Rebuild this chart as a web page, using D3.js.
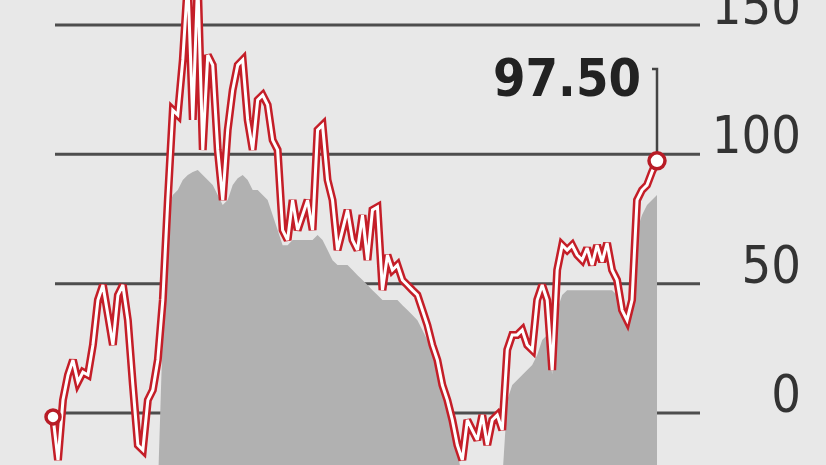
<!DOCTYPE html>
<html>
<head>
<meta charset="utf-8">
<script src="https://cdn.jsdelivr.net/npm/d3@7"></script>
<style>
  html, body { margin: 0; padding: 0; background: #e8e8e8; }
  svg { display: block; }
  .lbl { font-family: 'DejaVu Sans Condensed', 'DejaVu Sans', sans-serif; font-stretch: condensed; }
</style>
</head>
<body>
<svg id="chart" width="826" height="465"></svg>
<script>
// ---- data ----
const priceValues = [
  -1.5, -18.2, 5.0, 14.7, 20.5, 12.0, 15.8, 14.7, 26.3, 43.7,
  49.5, 37.9, 26.3, 45.6, 49.5, 35.9, 10.8, -12.4, -14.3, 5.0,
  8.9, 20.5, 43.7, 82.3, 117.1, 115.2, 136.5, 167.4, 113.3, 167.4,
  101.7, 138.4, 134.5, 101.7, 82.3, 109.4, 124.9, 134.5, 136.5, 113.3,
  101.7, 121.0, 122.9, 119.1, 105.5, 101.7, 70.7, 66.9, 82.3, 70.7,
  76.5, 82.3, 70.7, 109.4, 111.3, 90.1, 82.3, 63.0, 70.7, 78.5,
  66.9, 63.0, 76.5, 59.1, 78.5, 79.6, 47.5, 61.1, 55.3, 57.2,
  51.4, 49.5, 47.5, 45.6, 39.8, 34.0, 26.3, 20.5, 10.8, 5.0,
  -2.7, -12.4, -18.2, -2.7, -6.6, -10.4, -0.8, -12.4, -2.7, -0.8,
  -6.6, 24.4, 30.2, 30.2, 32.1, 26.3, 24.4, 43.7, 49.5, 43.7,
  16.6, 55.3, 64.9, 63.0, 64.9, 61.1, 59.1, 63.8, 57.2, 64.9,
  58.4, 65.7, 55.3, 51.4, 39.8, 35.9, 43.7, 82.3, 86.2, 88.1,
  93.2, 97.5
];
const areaValues = [
  -30, -30, -30, -30, -30, -30, -30, -30, -30, -30,
  -30, -30, -30, -30, -30, -30, -30, -30, -30, -30,
  -30, -30, 32.1, 78.5, 84.3, 86.2, 90.1, 92.0, 93.2, 93.9,
  92.0, 90.1, 88.1, 84.3, 80.4, 82.3, 88.1, 90.8, 92.0, 90.1,
  86.2, 86.2, 84.3, 82.3, 76.5, 70.7, 64.9, 64.9, 66.9, 66.9,
  66.9, 66.9, 66.9, 68.8, 66.9, 63.0, 59.1, 57.2, 57.2, 57.2,
  55.3, 53.3, 51.4, 49.5, 47.5, 45.6, 43.7, 43.7, 43.7, 43.7,
  41.7, 39.8, 37.9, 35.9, 32.1, 28.2, 22.4, 16.6, 8.9, 3.1,
  -4.6, -14.3, -25.9, -25.9, -25.9, -25.9, -25.9, -25.9, -25.9, -25.9,
  -25.9, 5.0, 10.8, 12.8, 14.7, 16.6, 18.6, 22.4, 28.2, 30.2,
  15.0, 39.8, 45.6, 47.5, 47.5, 47.5, 47.5, 47.5, 47.5, 47.5,
  47.5, 47.5, 47.5, 45.6, 39.8, 35.9, 39.8, 70.7, 76.5, 80.4,
  82.3, 84.3
];
const tickValues = [0, 50, 100, 150];
const tickLabels = ["0", "50", "100", "150"];
const lastLabel = "97.50";

// ---- layout ----
const svg = d3.select("#chart");
const W = 826, H = 465;
svg.append("rect").attr("width", W).attr("height", H).attr("fill", "#e8e8e8");

const x = d3.scaleLinear().domain([0, priceValues.length - 1]).range([53, 657]);
const y = d3.scaleLinear().domain([0, 150]).range([413, 25]);
const gridX0 = 55, gridX1 = 700;

// gridlines
svg.append("g").selectAll("line").data(tickValues).join("line")
  .attr("x1", gridX0).attr("x2", gridX1)
  .attr("y1", d => y(d)).attr("y2", d => y(d))
  .attr("stroke", "#4d4d4d").attr("stroke-width", 3);

// tick labels
svg.append("g").selectAll("text").data(tickValues).join("text")
  .attr("class", "lbl")
  .attr("x", 801).attr("y", d => y(d) - 1)
  .attr("text-anchor", "end")
  .attr("font-size", 52)
  .attr("fill", "#333")
  .text((d, i) => tickLabels[i]);

// gray area
const area = d3.area()
  .x((d, i) => x(i))
  .y0(H + 20)
  .y1(d => y(d));
svg.append("path").datum(areaValues)
  .attr("d", area)
  .attr("fill", "#b1b1b1");

// price line: red outer + white inner
const line = d3.line().x((d, i) => x(i)).y(d => y(d));
svg.append("path").datum(priceValues)
  .attr("d", line).attr("fill", "none")
  .attr("stroke", "#c41e28").attr("stroke-width", 8)
  .attr("stroke-linejoin", "miter").attr("stroke-miterlimit", 3);
svg.append("path").datum(priceValues)
  .attr("d", line).attr("fill", "none")
  .attr("stroke", "#ffffff").attr("stroke-width", 3)
  .attr("stroke-linejoin", "miter").attr("stroke-miterlimit", 3);

// end markers
const lastI = priceValues.length - 1;
const lx = x(lastI), ly = y(priceValues[lastI]);
// leader line
svg.append("path")
  .attr("d", `M${lx - 5},${y(133)} L${lx},${y(133)} L${lx},${ly}`)
  .attr("fill", "none").attr("stroke", "#444").attr("stroke-width", 2.5);

svg.append("g").selectAll("circle").data([0, lastI]).join("circle")
  .attr("cx", i => x(i)).attr("cy", i => y(priceValues[i]))
  .attr("r", (i) => i === 0 ? 7 : 8)
  .attr("fill", "#fff").attr("stroke", "#b81c26").attr("stroke-width", 3.5);

svg.append("text")
  .attr("class", "lbl")
  .attr("x", 641).attr("y", y(133) + 27)
  .attr("text-anchor", "end")
  .attr("font-size", 52).attr("font-weight", "bold")
  .attr("fill", "#222")
  .text(lastLabel);
</script>
</body>
</html>
